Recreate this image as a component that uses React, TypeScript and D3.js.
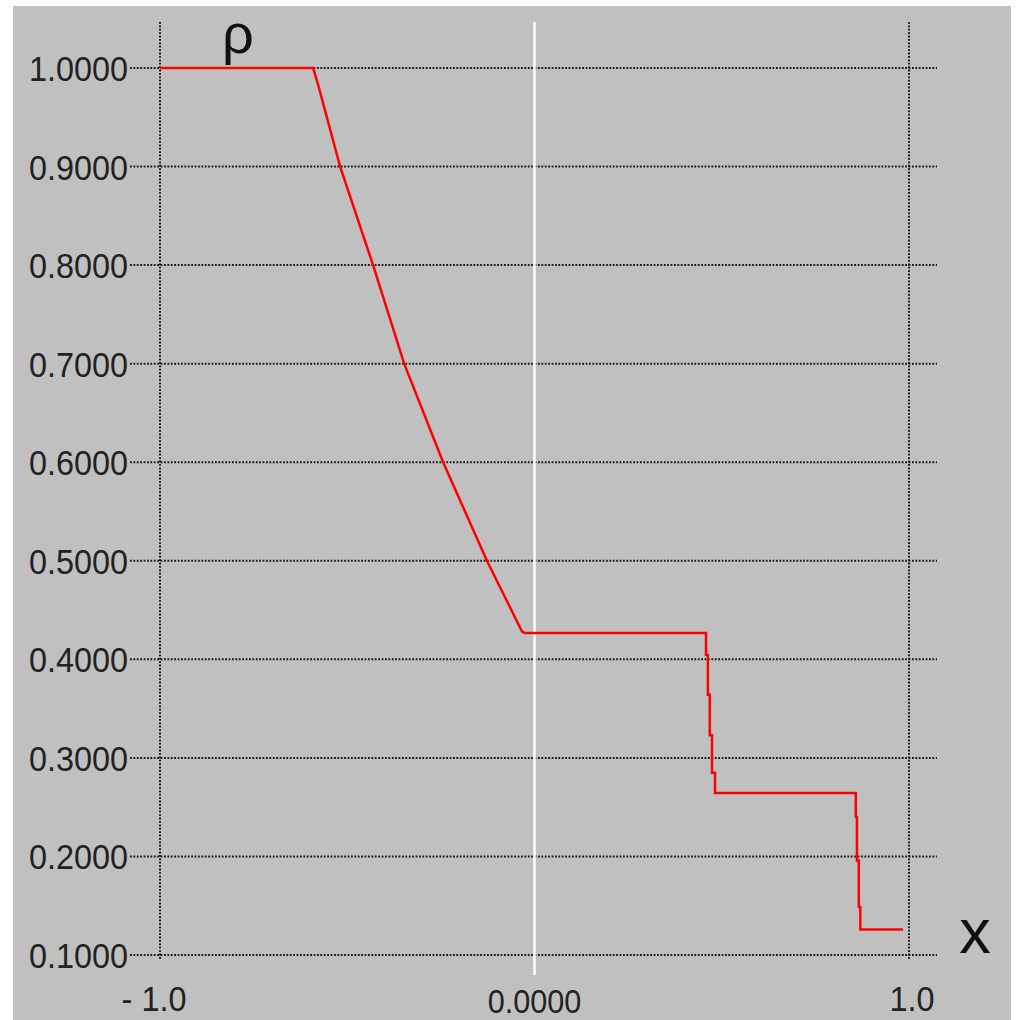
import React from 'react';
import * as d3 from 'd3';

// density profile (x, rho)
const xs = [-1.0, -0.591, -0.577, -0.519, -0.431, -0.348, -0.244, -0.127, -0.033, -0.025,
  0.458, 0.458, 0.463, 0.463, 0.468, 0.468, 0.474, 0.474, 0.482, 0.482,
  0.858, 0.858, 0.861, 0.861, 0.866, 0.866, 0.870, 0.870, 0.984];
const rho = [1.0, 1.0, 0.982, 0.9, 0.8, 0.7, 0.6, 0.5, 0.428, 0.4266,
  0.4266, 0.4045, 0.4045, 0.364, 0.364, 0.323, 0.323, 0.285, 0.285, 0.2645,
  0.2645, 0.240, 0.240, 0.196, 0.196, 0.149, 0.149, 0.126, 0.126];

const yTicks = [1.0, 0.9, 0.8, 0.7, 0.6, 0.5, 0.4, 0.3, 0.2, 0.1];
const yTickLabels = ['1.0000', '0.9000', '0.8000', '0.7000', '0.6000', '0.5000', '0.4000', '0.3000', '0.2000', '0.1000'];
const xTicks = [-1.0, 0.0, 1.0];
const xTickLabels = ['- 1.0', '0.0000', '1.0'];

const W = 1017;
const H = 1020;

const App = () => {
    const x = d3.scaleLinear().domain([-1, 1]).range([160, 909]);
    const y = d3.scaleLinear().domain([0.1, 1.0]).range([955, 68]);

    const pts = xs.map((v, i) => [v, rho[i]] as [number, number]);
    const line = d3.line<[number, number]>()
        .x(d => x(d[0]))
        .y(d => y(d[1]));

    const font = '"Liberation Sans", Arial, sans-serif';
    const dots = { stroke: '#1a1a1a', strokeWidth: 2, strokeDasharray: '1.8 1.6' };

    return (
        <svg width={W} height={H} style={{ position: 'absolute', left: 0, top: 0, background: '#fff' }}>
            <rect x={13} y={6} width={998} height={1014} fill="#c0c0c0" />

            {/* horizontal dotted grid */}
            {yTicks.map(t => (
                <line key={'h' + t} x1={130} x2={937} y1={y(t)} y2={y(t)} {...dots} />
            ))}

            {/* vertical dotted grid at the ends, white line at zero */}
            {xTicks.filter(t => t !== 0).map(t => (
                <line key={'v' + t} x1={x(t)} x2={x(t)} y1={22} y2={959} {...dots} />
            ))}
            <line x1={x(0)} x2={x(0)} y1={22} y2={975} stroke="#ffffff" strokeWidth={2.5} />

            {/* y labels */}
            {yTicks.map((t, i) => (
                <text key={'yl' + t} transform={`translate(128,${y(t) + 13}) scale(0.9,1)`}
                    textAnchor="end" fontFamily={font} fontSize={36} fill="#222">
                    {yTickLabels[i]}
                </text>
            ))}

            {/* x labels */}
            {xTicks.map((t, i) => (
                <text key={'xl' + t}
                    transform={`translate(${x(t) + (t < 0 ? -6 : t > 0 ? 3 : 0)},${t === 0 ? 1013 : 1011}) scale(0.9,1)`}
                    textAnchor="middle" fontFamily={font} fontSize={t === 0 ? 34 : 36} fill="#222">
                    {xTickLabels[i]}
                </text>
            ))}

            <path d={line(pts) || ''} fill="none" stroke="#ff0000" strokeWidth={2.5} />

            <text x={238} y={53} textAnchor="middle" fontFamily={font} fontSize={56} fill="#111">ρ</text>
            <text x={975} y={953} textAnchor="middle" fontFamily={font} fontSize={63} fill="#111">x</text>
        </svg>
    );
};

export default App;
